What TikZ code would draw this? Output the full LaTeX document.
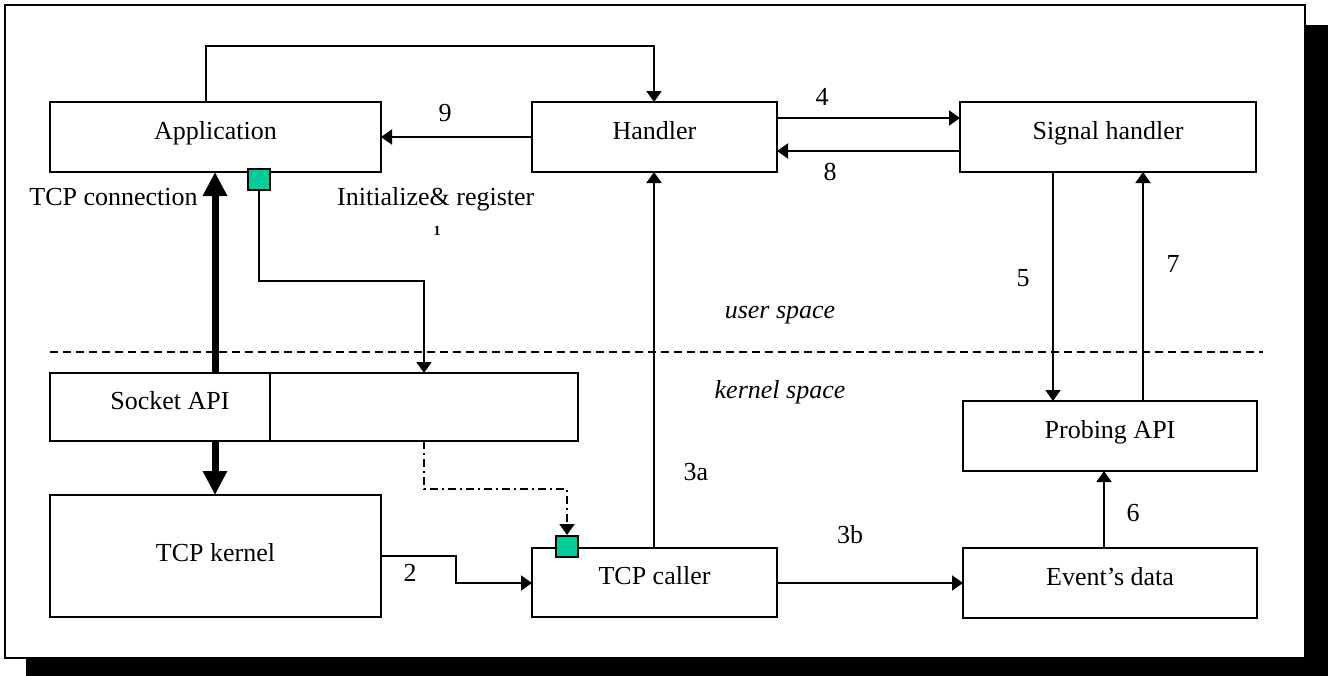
\documentclass[tikz,border=0pt]{standalone}
\usepackage{fontspec}
\setmainfont{Liberation Serif}
\usetikzlibrary{arrows.meta}
\definecolor{gsq}{RGB}{0,204,153}
\begin{document}
\begin{tikzpicture}[x=1pt,y=-1pt,
  box/.style={draw,line width=2pt,inner sep=0pt,outer sep=0pt,text height=18pt,text depth=14pt,
    font=\fontsize{26}{30}\selectfont},
  lbl/.style={inner sep=0pt,text height=18pt,text depth=5pt,font=\fontsize{26}{30}\selectfont},
  ilbl/.style={lbl,font=\fontsize{26}{30}\selectfont\itshape},
  arr/.style={line width=2pt,-{Triangle[length=11pt,width=15pt]}},
  thickarr/.style={line width=7pt,-{Triangle[length=24pt,width=23pt]}},
  sq/.style={draw,line width=2pt,fill=gsq,inner sep=0pt,minimum width=22pt,minimum height=21pt},
  divider/.style={line width=1.6pt,dash pattern=on 8pt off 5pt},
  dashdot/.style={dash pattern=on 8pt off 4pt on 2pt off 4pt}
]
\useasboundingbox (0,0) rectangle (1330,675);
% frame with shadow
\fill[black] (26,25) rectangle (1328,676);
\filldraw[fill=white,line width=2pt] (5,5) rectangle (1305,658);

% boxes
\node[box,minimum width=331pt,minimum height=70pt] (app) at (215.5,137) {Application};
\node[box,minimum width=245pt,minimum height=70pt] (hand) at (654.5,137) {Handler};
\node[box,minimum width=296pt,minimum height=70pt] (sig) at (1108,137) {Signal handler};
\node[box,minimum width=220pt,minimum height=68pt] (sockL) at (160,407) {\hspace*{20pt}Socket API};
\node[box,minimum width=308pt,minimum height=68pt] (sockR) at (424,407) {};
\node[box,minimum width=331pt,minimum height=122pt,text depth=7pt] (kernel) at (215.5,556) {TCP kernel};
\node[box,minimum width=245pt,minimum height=69pt] (caller) at (654.5,582.5) {TCP caller};
\node[box,minimum width=294pt,minimum height=70pt] (probe) at (1110,436) {Probing API};
\node[box,minimum width=294pt,minimum height=70pt] (event) at (1110,583) {Event’s data};

% green squares
\node[sq] (g1) at (259,179) {};
\node[sq] (g2) at (567,546.5) {};

% helper coordinates
\coordinate (a0) at ([xshift=-9.5pt]app.north);
\coordinate (top) at (0,46);
\coordinate (r1) at (0,281);
\coordinate (r2) at (0,489);
\coordinate (k2) at (456,0);
\coordinate (d0) at (50,352);
\coordinate (d1) at (1263,352);

% divider
\draw[divider] (d0) -- (d1);

% connectors
\draw[arr] (a0) -- (a0 |- top) -| ([xshift=-0.5pt]hand.north);
\draw[arr] (hand.west) -- (app.east);
\draw[arr] ([yshift=19pt]hand.east) -- ([yshift=19pt]hand.east -| sig.west);
\draw[arr] ([yshift=-14pt]sig.west) -- ([yshift=-14pt]sig.west -| hand.east);
\draw[arr] ([xshift=-55pt]sig.south) -- ([xshift=-55pt]sig.south |- probe.north);
\draw[arr] ([xshift=35pt]sig.south |- probe.north) -- ([xshift=35pt]sig.south);
\draw[arr] ([xshift=-6pt]event.north) -- ([xshift=-6pt]event.north |- probe.south);
\draw[arr] ([yshift=-0.5pt]caller.east) -- ([yshift=-0.5pt]caller.east -| event.west);
\draw[arr] ([xshift=-0.5pt]caller.north) -- ([xshift=-0.5pt]hand.south);
\draw[arr] (kernel.east) -- (kernel.east -| k2) |- ([yshift=-0.5pt]caller.west);
\draw[arr] (g1.south) -- (g1.south |- r1) -| (sockR.north);
\draw[arr,dashdot] (sockR.south) -- (sockR.south |- r2) -| (g2.north);
\draw[thickarr] ([xshift=55pt]sockL.north) -- ([xshift=55pt]sockL.north |- app.south);
\draw[thickarr] ([xshift=55pt]sockL.south) -- ([xshift=55pt]sockL.south |- kernel.north);

% labels
\node[lbl] (l9) at (445,115) {9};
\node[lbl] (l4) at (822,99) {4};
\node[lbl] (l8) at (830,174) {8};
\node[lbl] (l5) at (1023,280) {5};
\node[lbl] (l7) at (1173,266) {7};
\node[lbl] (l6) at (1133,515) {6};
\node[lbl] (l3a) at (696,474) {3a};
\node[lbl] (l3b) at (850,537) {3b};
\node[lbl] (l2) at (410,575) {2};
\node[lbl] (ltcp) at (113.5,199) {TCP connection};
\node[lbl,anchor=west] (linit) at (337,199) {Initialize\& register};
\node[inner sep=0pt,font=\fontsize{14}{15}\selectfont\bfseries] (l1) at (437,231) {1};
\node[ilbl] (lus) at (780,312) {user space};
\node[ilbl] (lks) at (780,392) {kernel space};
\end{tikzpicture}
\end{document}
